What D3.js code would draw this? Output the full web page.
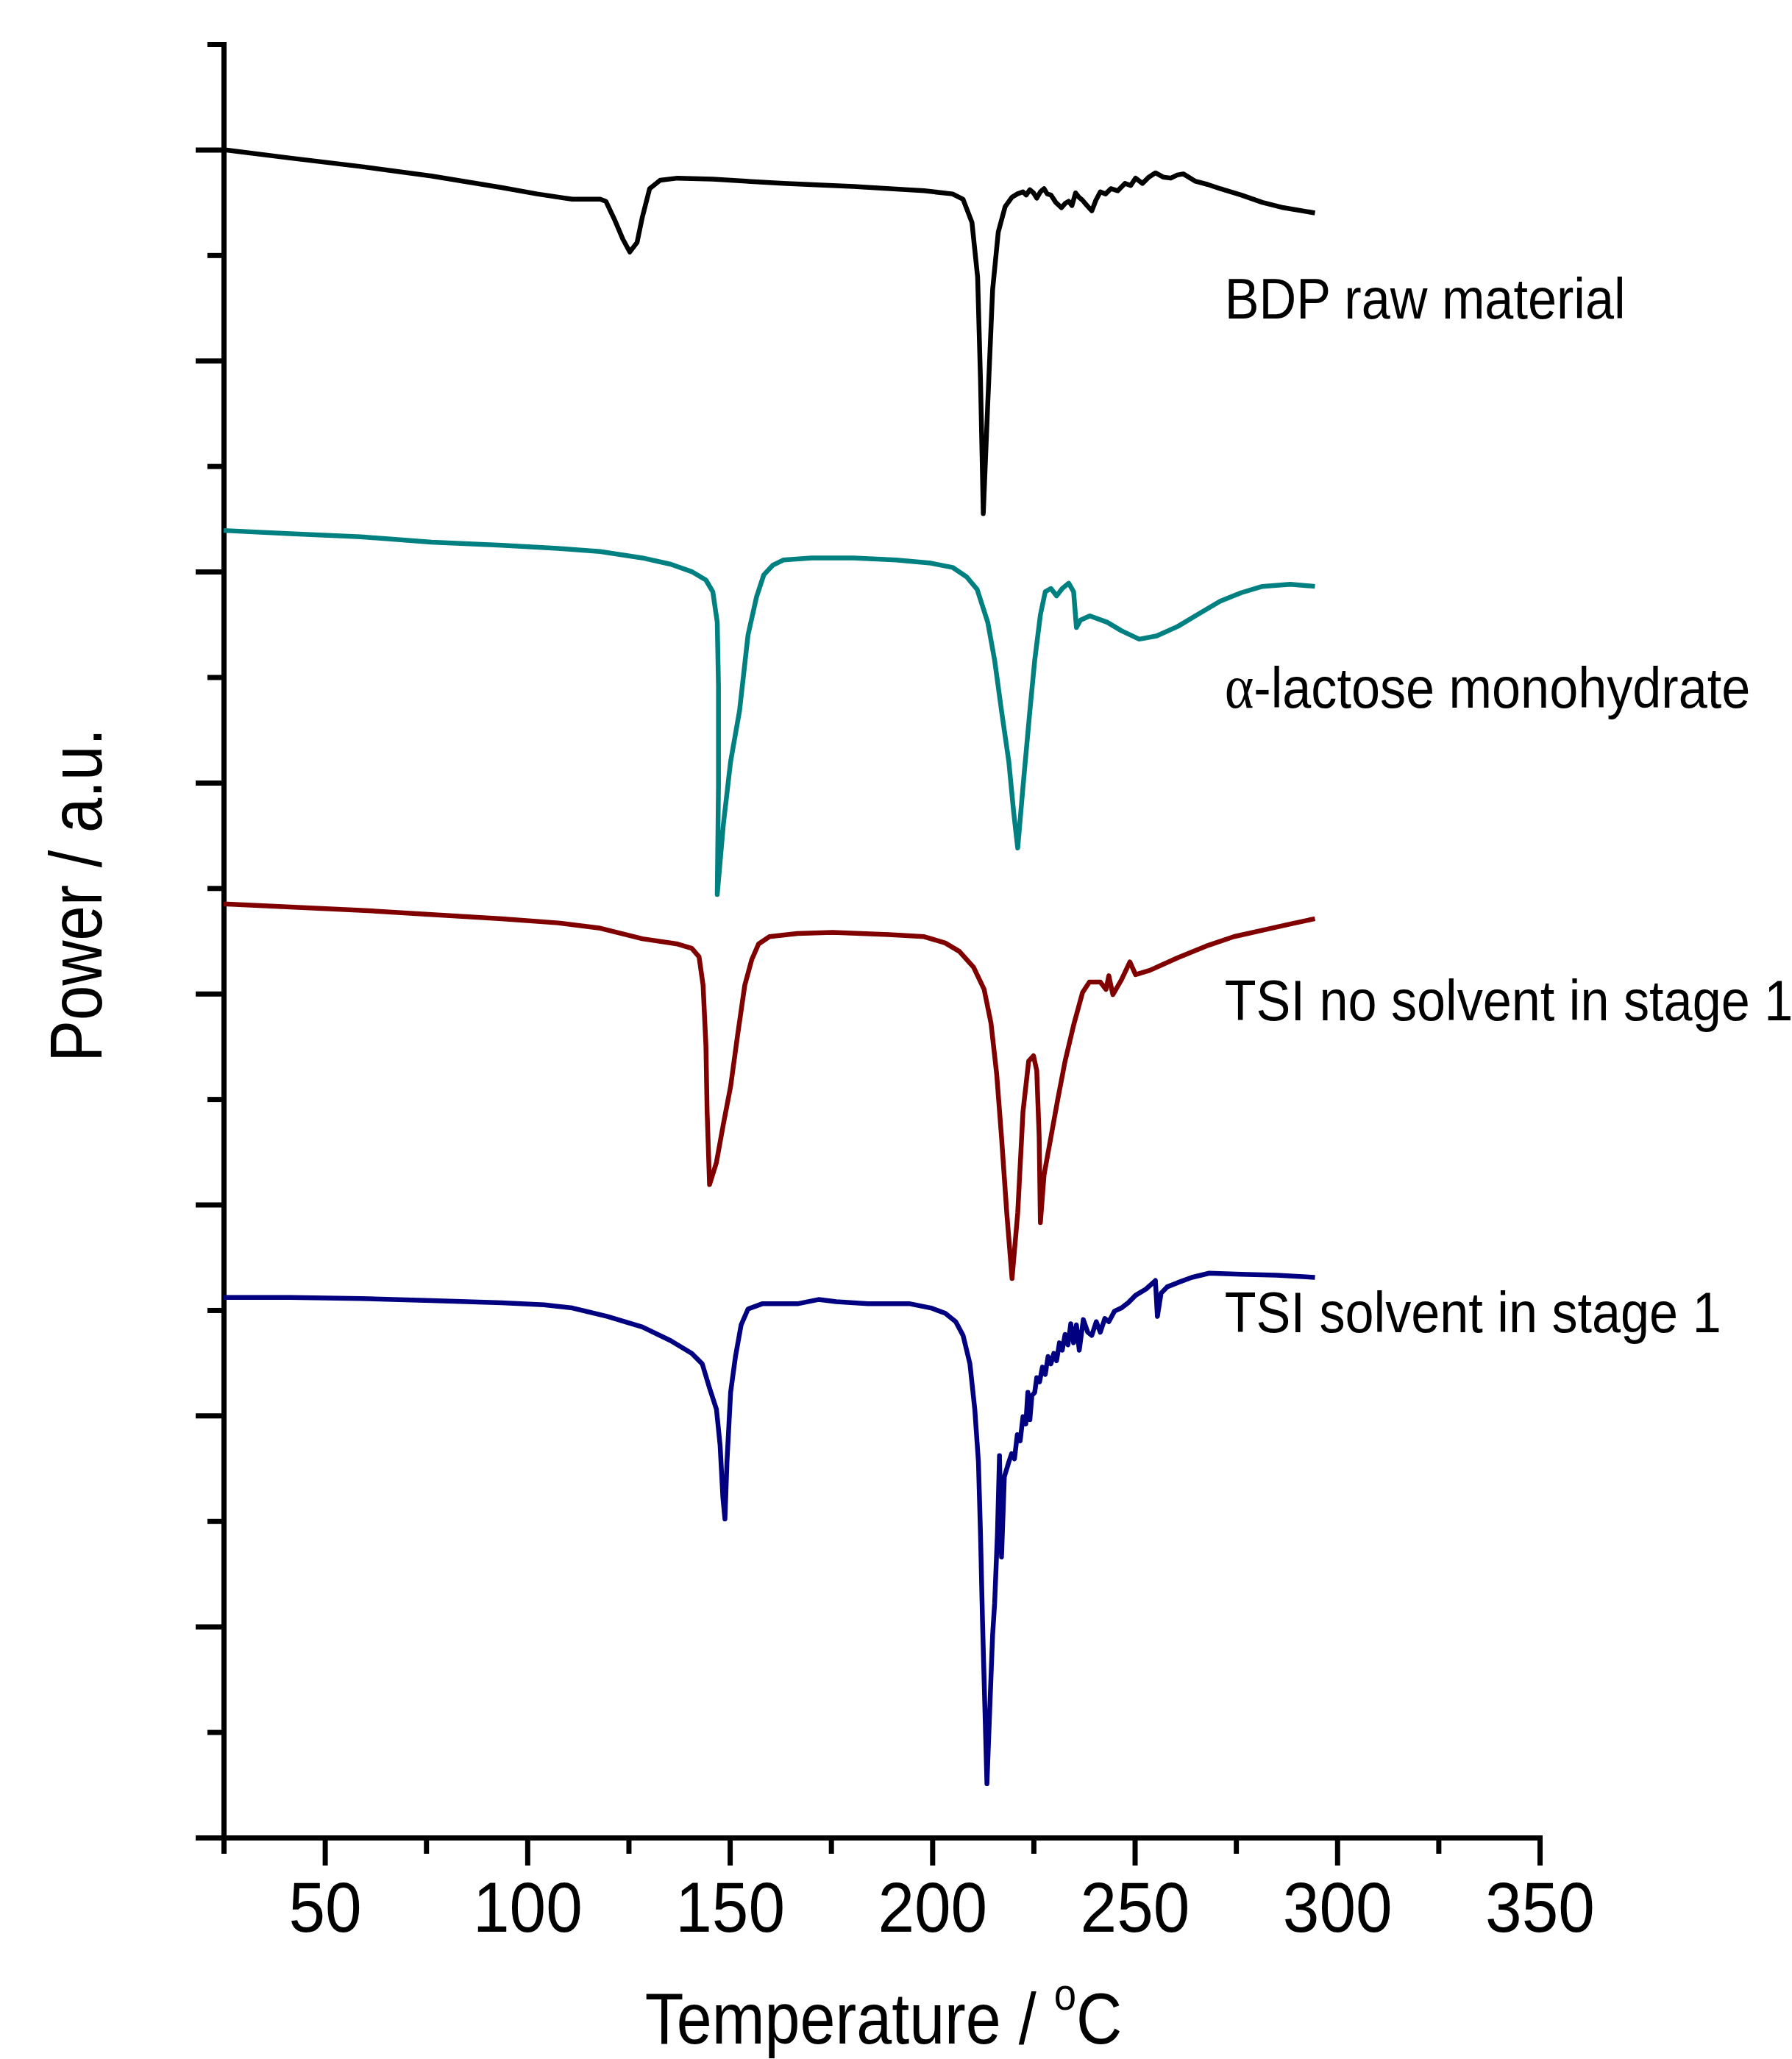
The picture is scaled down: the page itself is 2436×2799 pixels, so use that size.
<!DOCTYPE html>
<html>
<head>
<meta charset="utf-8">
<script src="https://cdn.jsdelivr.net/npm/d3@7"></script>
<style>
  html, body { margin: 0; padding: 0; background: #ffffff; }
  svg { display: block; }
  text { font-family: "Liberation Sans", Arial, sans-serif; fill: #000; }
</style>
</head>
<body>
<svg id="chart" width="2436" height="2799"></svg>
<script>
// ---------- DATA (temperature °C, power in arbitrary units) ----------
const seriesNames = ["BDP raw material", "α-lactose monohydrate", "TSI no solvent in stage 1", "TSI solvent in stage 1"];

const bdpRaw = [
  [25.0,16.00],[41.5,15.92],[58.9,15.84],[76.3,15.75],[93.7,15.64],[102.4,15.58],[111.1,15.53],
  [118.0,15.53],[119.4,15.51],[121.5,15.34],[123.6,15.15],[125.3,15.03],[127.1,15.12],[128.4,15.36],
  [130.2,15.63],[132.8,15.71],[137.1,15.73],[145.8,15.72],[163.2,15.68],[180.6,15.65],[198.0,15.61],
  [205.0,15.58],[207.6,15.53],[209.8,15.31],[211.2,14.79],[211.9,13.83],[212.6,12.55],[213.7,13.59],
  [214.9,14.67],[216.3,15.22],[218.0,15.46],[219.7,15.55],[221.0,15.58],[222.4,15.60],[223.2,15.57],
  [224.1,15.62],[225.0,15.59],[225.8,15.54],[226.7,15.60],[227.6,15.63],[228.4,15.58],[229.3,15.57],
  [230.5,15.50],[231.9,15.45],[232.8,15.49],[233.7,15.51],[234.5,15.47],[235.4,15.59],[236.2,15.55],
  [237.1,15.52],[238.2,15.47],[239.4,15.42],[240.4,15.52],[241.5,15.60],[242.8,15.58],[244.1,15.63],
  [245.8,15.61],[247.6,15.68],[249.0,15.66],[250.2,15.73],[251.9,15.68],[253.5,15.74],[255.1,15.78],
  [257.0,15.74],[258.9,15.73],[260.5,15.76],[262.0,15.77],[265.0,15.70],[268.0,15.67],[271.1,15.63],
  [276.3,15.57],[281.5,15.50],[286.7,15.45],[294.5,15.40]
];

const lactose = [
  [25.0,12.39],[41.5,12.36],[58.9,12.33],[76.3,12.28],[93.7,12.25],[107.6,12.22],[118.0,12.19],
  [128.4,12.13],[135.4,12.07],[140.6,12.00],[144.1,11.92],[145.8,11.81],[146.9,11.52],[147.2,10.92],
  [147.2,9.96],[146.9,8.94],[148.4,9.60],[150.2,10.20],[152.4,10.68],[154.5,11.40],[156.6,11.76],
  [158.4,11.97],[160.6,12.06],[163.2,12.11],[170.2,12.13],[180.6,12.13],[191.1,12.11],[199.7,12.08],
  [205.0,12.04],[208.5,11.95],[211.1,11.83],[213.7,11.52],[215.4,11.16],[217.1,10.68],[218.9,10.20],
  [220.1,9.72],[221.1,9.38],[222.4,9.96],[224.1,10.68],[225.3,11.16],[226.7,11.59],[227.9,11.81],
  [229.3,11.84],[230.7,11.77],[232.1,11.84],[233.7,11.89],[234.9,11.81],[235.6,11.47],[236.6,11.54],
  [238.9,11.58],[243.2,11.52],[246.7,11.44],[251.1,11.36],[255.4,11.39],[260.6,11.48],[265.8,11.60],
  [271.1,11.72],[276.3,11.80],[281.5,11.86],[288.4,11.88],[294.5,11.86]
];

const tsiNoSolvent = [
  [25.0,8.85],[41.5,8.82],[58.9,8.79],[76.3,8.75],[93.7,8.71],[107.6,8.67],[118.0,8.62],[128.4,8.52],
  [137.1,8.47],[140.6,8.43],[142.4,8.35],[143.4,8.08],[144.1,7.51],[144.4,6.88],[145.0,6.19],
  [146.7,6.40],[148.4,6.76],[150.2,7.12],[151.9,7.60],[153.7,8.08],[155.4,8.32],[157.1,8.47],
  [159.8,8.54],[166.7,8.57],[175.4,8.58],[189.3,8.56],[198.0,8.54],[203.2,8.48],[206.7,8.40],
  [210.2,8.25],[212.8,8.04],[214.5,7.72],[215.9,7.24],[217.1,6.64],[218.4,5.92],[219.7,5.30],
  [221.1,5.92],[222.4,6.88],[223.8,7.36],[225.0,7.41],[225.8,7.27],[226.4,6.64],[226.7,5.83],
  [227.6,6.28],[229.3,6.64],[231.0,7.00],[232.8,7.36],[234.9,7.70],[237.1,8.01],[238.8,8.11],
  [241.5,8.11],[242.9,8.04],[243.6,8.17],[244.6,7.99],[246.7,8.13],[248.8,8.30],[250.2,8.18],
  [253.7,8.22],[260.6,8.34],[267.6,8.45],[274.5,8.54],[281.5,8.60],[288.4,8.66],[294.5,8.71]
];

const tsiSolvent = [
  [25.0,5.12],[41.5,5.12],[58.9,5.11],[76.3,5.09],[93.7,5.07],[104.1,5.05],[111.1,5.02],[119.8,4.94],
  [128.4,4.84],[135.4,4.71],[140.6,4.59],[143.2,4.49],[145.0,4.26],[146.7,4.06],[147.6,3.72],
  [148.3,3.22],[148.8,3.02],[149.3,3.56],[150.2,4.22],[151.4,4.56],[152.8,4.86],[154.5,5.01],
  [158.0,5.06],[166.7,5.06],[171.9,5.10],[176.3,5.08],[184.1,5.06],[194.5,5.06],[199.7,5.02],
  [203.2,4.97],[205.8,4.89],[207.6,4.76],[209.3,4.49],[210.5,4.06],[211.4,3.56],[211.9,2.89],
  [212.4,2.06],[213.0,1.22],[213.5,0.51],[214.2,1.22],[214.9,1.92],[215.4,2.22],[216.1,2.89],
  [216.6,3.62],[217.1,2.66],[217.8,3.42],[218.9,3.56],[219.6,3.64],[220.3,3.59],[221.0,3.82],
  [221.7,3.76],[222.4,3.99],[223.1,3.92],[223.6,4.22],[224.1,3.96],[224.6,4.19],[225.3,4.22],
  [225.8,4.36],[226.5,4.32],[227.2,4.46],[227.9,4.39],[228.6,4.56],[229.3,4.49],[230.0,4.59],
  [230.7,4.52],[231.4,4.69],[232.1,4.62],[232.8,4.77],[233.5,4.67],[234.2,4.87],[234.9,4.69],
  [235.6,4.86],[236.3,4.62],[237.3,4.91],[238.4,4.79],[239.4,4.76],[240.5,4.89],[241.5,4.79],
  [242.6,4.92],[243.6,4.89],[245.0,4.99],[246.7,5.02],[248.4,5.07],[250.2,5.14],[252.8,5.20],
  [255.1,5.28],[255.6,4.94],[256.5,5.16],[258.0,5.22],[260.6,5.26],[264.1,5.31],[268.4,5.35],
  [276.3,5.34],[285.0,5.33],[294.5,5.31]
];

const xMajorTicks = [50, 100, 150, 200, 250, 300, 350];
const xMinorTicks = [25, 75, 125, 175, 225, 275, 325];
const yMajorTicks = [0, 2, 4, 6, 8, 10, 12, 14, 16];
const yMinorTicks = [1, 3, 5, 7, 9, 11, 13, 15, 17];
const xTitle = "Temperature / ";
const yTitle = "Power / a.u.";

// ---------- STYLE / LAYOUT ----------
const colors = ["#000000", "#008080", "#800000", "#000080"];
const labelAnchor = [[272.2, 14.40], [272.2, 10.71], [272.2, 7.75], [272.2, 4.79]];

const svg = d3.select("#chart");
const x = d3.scaleLinear().domain([25, 350]).range([304, 2093]);
const y = d3.scaleLinear().domain([0, 17]).range([2498, 60]);

const AXW = 7;

// x axis
const gx = svg.append("g").attr("transform", `translate(0,${y(0)})`);
gx.call(d3.axisBottom(x).tickValues(xMajorTicks).tickSize(38).tickSizeOuter(0).tickFormat(d3.format("d")));
const gxm = svg.append("g").attr("transform", `translate(0,${y(0)})`);
gxm.call(d3.axisBottom(x).tickValues(xMinorTicks).tickSize(22).tickSizeOuter(0).tickFormat(""));

// y axis
const gy = svg.append("g").attr("transform", `translate(${x(25)},0)`);
gy.call(d3.axisLeft(y).tickValues(yMajorTicks).tickSize(38).tickSizeOuter(0).tickFormat(""));
const gym = svg.append("g").attr("transform", `translate(${x(25)},0)`);
gym.call(d3.axisLeft(y).tickValues(yMinorTicks).tickSize(22).tickSizeOuter(0).tickFormat(""));

svg.selectAll(".domain").attr("stroke", "#000").attr("stroke-width", AXW).attr("stroke-linecap", "square");
svg.selectAll(".tick line").attr("stroke", "#000").attr("stroke-width", AXW);
gx.selectAll(".tick text")
  .attr("y", 0).attr("dy", 0)
  .attr("transform", "translate(0,128) scale(0.92,1)")
  .attr("font-size", 97)
  .attr("font-family", "'Liberation Sans', Arial, sans-serif")
  .attr("fill", "#000");

// curves
const line = d3.line().x(d => x(d[0])).y(d => y(d[1]));
const allSeries = [bdpRaw, lactose, tsiNoSolvent, tsiSolvent];
svg.append("g").selectAll("path.curve")
  .data(allSeries)
  .join("path")
  .attr("class", "curve")
  .attr("d", line)
  .attr("fill", "none")
  .attr("stroke", (d, i) => colors[i])
  .attr("stroke-width", 6.5)
  .attr("stroke-linejoin", "round");

// series labels
seriesNames.forEach((name, i) => {
  const t = svg.append("text")
    .attr("transform", `translate(${x(labelAnchor[i][0])},${y(labelAnchor[i][1])}) scale(0.9,1)`)
    .attr("font-size", 78);
  if (name.startsWith("α")) {
    t.append("tspan").attr("font-family", "'Liberation Serif', 'Times New Roman', serif").attr("font-size", 84).text("α");
    t.append("tspan").text(name.slice(1));
  } else {
    t.text(name);
  }
});

// axis titles
const xt = svg.append("text")
  .attr("transform", `translate(1201,2778) scale(0.88,1)`)
  .attr("text-anchor", "middle")
  .attr("font-size", 98);
xt.append("tspan").text(xTitle);
xt.append("tspan").attr("font-size", 62).attr("dy", -46).text("o");
xt.append("tspan").attr("dy", 46).text("C");

svg.append("text")
  .attr("transform", `translate(138,1217) rotate(-90) scale(0.85,1)`)
  .attr("text-anchor", "middle")
  .attr("font-size", 100)
  .text(yTitle);
</script>
</body>
</html>
